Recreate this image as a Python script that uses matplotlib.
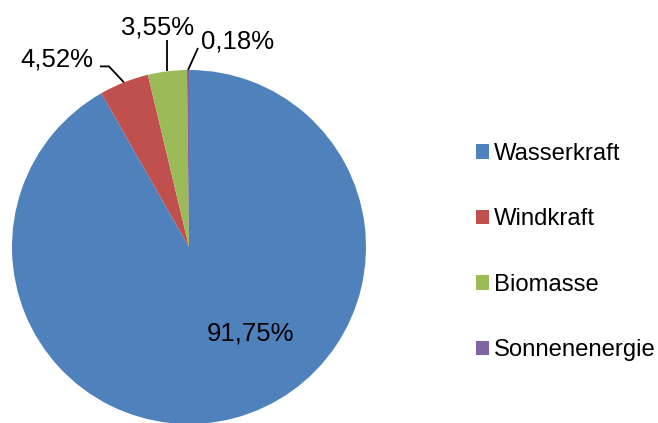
import matplotlib
matplotlib.use("Agg")
import matplotlib.pyplot as plt
import numpy as np

plt.rcParams['font.family'] = ['Liberation Sans', 'DejaVu Sans']

categories = ["Wasserkraft", "Windkraft", "Biomasse", "Sonnenenergie"]
values = [91.75, 4.52, 3.55, 0.18]
value_labels = ["91,75%", "4,52%", "3,55%", "0,18%"]
colors = ["#4F81BD", "#C0504D", "#9BBB59", "#8064A2"]

W, H = 658, 423
fig = plt.figure(figsize=(W / 100, H / 100), dpi=100)

cx, cy, R = 189, 247, 177  # pie centre and radius in pixels
ax = fig.add_axes([(cx - R) / W, (H - cy - R) / H, 2 * R / W, 2 * R / H])
ax.axis('off')

wedges, _ = ax.pie(values, colors=colors, startangle=90, counterclock=False,
                   radius=1, center=(0, 0), frame=False,
                   wedgeprops=dict(linewidth=0))
ax.set_xlim(-1, 1)
ax.set_ylim(-1, 1)
ax.set_aspect('auto')

fs = 18.5
# inside label for the large slice
ax.text(62 / R, -86 / R, value_labels[0], ha='center', va='center', fontsize=fs, color='black')

# outside labels with leader lines (offsets in pixels from slice edge, y down)
layouts = {
    1: dict(line=[(-15, -16), (-24, -16)], text=(-31, -23), ha='right'),
    2: dict(line=[(0, -31)], text=(-10, -44), ha='center'),
    3: dict(line=[(10, -22)], text=(50, -29), ha='center'),
}
for i, lay in layouts.items():
    w = wedges[i]
    mid = np.deg2rad((w.theta1 + w.theta2) / 2)
    ax0, ay0 = np.cos(mid), np.sin(mid)
    xs = [ax0] + [ax0 + dx / R for dx, dy in lay['line']]
    ys = [ay0] + [ay0 - dy / R for dx, dy in lay['line']]
    ax.plot(xs, ys, color='black', lw=1.3, clip_on=False, solid_capstyle='butt')
    tx, ty = lay['text']
    ax.text(ax0 + tx / R, ay0 - ty / R, value_labels[i], ha=lay['ha'], va='center',
            fontsize=fs, color='black', clip_on=False)

leg = fig.legend(wedges, categories, loc='upper left',
                 bbox_to_anchor=(476 / W, 1 - 143 / H), frameon=False,
                 fontsize=17.2, labelspacing=1.82, handlelength=0.55,
                 handleheight=0.55, handletextpad=0.2, borderpad=0,
                 borderaxespad=0)

fig.savefig("out.png", dpi=100)
